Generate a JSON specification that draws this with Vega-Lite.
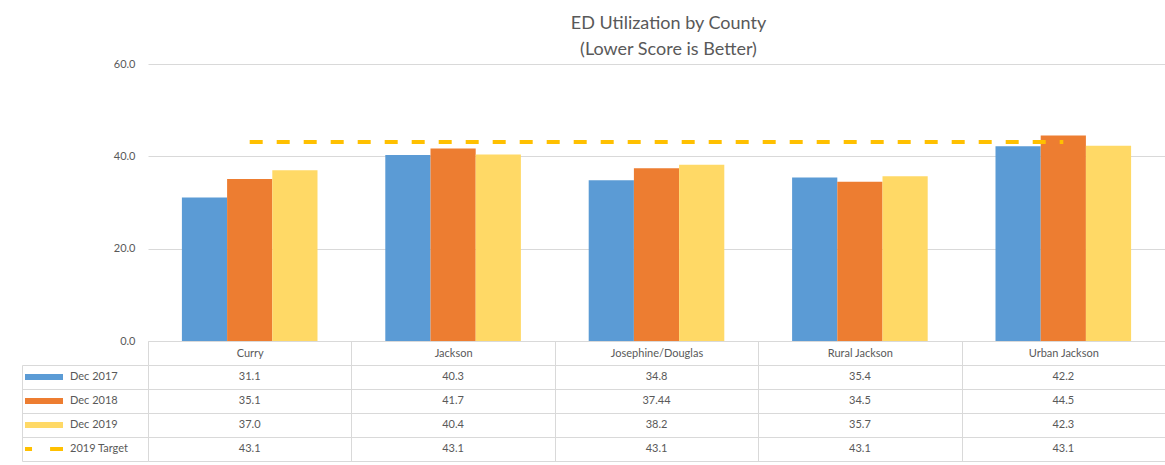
{
  "$schema": "https://vega.github.io/schema/vega-lite/v6.json",
  "padding": {"left": 17, "top": 15, "right": 0, "bottom": 3},
  "background": "white",
  "config": {
    "view": {"stroke": null},
    "font": "Lato",
    "axis": {"labelFont": "Lato", "labelColor": "#595959"},
    "title": {"font": "Lato", "fontWeight": "normal", "color": "#595959"}
  },
  "data": {
    "values": [
      {"County": "Curry", "Series": "Dec 2017", "Value": 31.1, "Label": "31.1"},
      {"County": "Curry", "Series": "Dec 2018", "Value": 35.1, "Label": "35.1"},
      {"County": "Curry", "Series": "Dec 2019", "Value": 37.0, "Label": "37.0"},
      {"County": "Curry", "Series": "2019 Target", "Value": 43.1, "Label": "43.1"},
      {"County": "Jackson", "Series": "Dec 2017", "Value": 40.3, "Label": "40.3"},
      {"County": "Jackson", "Series": "Dec 2018", "Value": 41.7, "Label": "41.7"},
      {"County": "Jackson", "Series": "Dec 2019", "Value": 40.4, "Label": "40.4"},
      {"County": "Jackson", "Series": "2019 Target", "Value": 43.1, "Label": "43.1"},
      {"County": "Josephine/Douglas", "Series": "Dec 2017", "Value": 34.8, "Label": "34.8"},
      {"County": "Josephine/Douglas", "Series": "Dec 2018", "Value": 37.44, "Label": "37.44"},
      {"County": "Josephine/Douglas", "Series": "Dec 2019", "Value": 38.2, "Label": "38.2"},
      {"County": "Josephine/Douglas", "Series": "2019 Target", "Value": 43.1, "Label": "43.1"},
      {"County": "Rural Jackson", "Series": "Dec 2017", "Value": 35.4, "Label": "35.4"},
      {"County": "Rural Jackson", "Series": "Dec 2018", "Value": 34.5, "Label": "34.5"},
      {"County": "Rural Jackson", "Series": "Dec 2019", "Value": 35.7, "Label": "35.7"},
      {"County": "Rural Jackson", "Series": "2019 Target", "Value": 43.1, "Label": "43.1"},
      {"County": "Urban Jackson", "Series": "Dec 2017", "Value": 42.2, "Label": "42.2"},
      {"County": "Urban Jackson", "Series": "Dec 2018", "Value": 44.5, "Label": "44.5"},
      {"County": "Urban Jackson", "Series": "Dec 2019", "Value": 42.3, "Label": "42.3"},
      {"County": "Urban Jackson", "Series": "2019 Target", "Value": 43.1, "Label": "43.1"}
    ]
  },
  "columns": 2,
  "spacing": {"row": 24, "column": 0},
  "bounds": "flush",
  "concat": [
    {
      "width": 126,
      "height": 277,
      "mark": {"type": "point", "opacity": 0},
      "encoding": {}
    },
    {
      "width": 1017,
      "height": 277,
      "title": {
        "text": ["ED Utilization by County", "(Lower Score is Better)"],
        "fontSize": 18,
        "lineHeight": 26,
        "anchor": "middle",
        "dx": 12,
        "offset": -1
      },
      "encoding": {
        "x": {
          "field": "County",
          "type": "nominal",
          "sort": ["Curry", "Jackson", "Josephine/Douglas", "Rural Jackson", "Urban Jackson"],
          "scale": {"paddingInner": 0, "paddingOuter": 0},
          "axis": {
            "title": null,
            "labelAngle": 0,
            "tickBand": "extent",
            "tickSize": 24,
            "tickColor": "#d9d9d9",
            "domainColor": "#d9d9d9",
            "labelPadding": -18,
            "labelFontSize": 11
          }
        },
        "y": {
          "field": "Value",
          "type": "quantitative",
          "scale": {"domain": [0, 60]},
          "axis": {
            "title": null,
            "values": [0, 20, 40, 60],
            "format": ".1f",
            "ticks": false,
            "domain": false,
            "labelPadding": 13,
            "labelFontSize": 11,
            "gridColor": "#d9d9d9"
          }
        }
      },
      "layer": [
        {
          "transform": [{"filter": "datum.Series !== '2019 Target'"}],
          "mark": {"type": "bar"},
          "encoding": {
            "xOffset": {
              "field": "Series",
              "type": "nominal",
              "sort": ["Dec 2017", "Dec 2018", "Dec 2019"],
              "scale": {"paddingInner": 0, "paddingOuter": 0.75}
            },
            "color": {
              "field": "Series",
              "type": "nominal",
              "scale": {"domain": ["Dec 2017", "Dec 2018", "Dec 2019"], "range": ["#5B9BD5", "#ED7D31", "#FFD966"]},
              "legend": null
            }
          }
        },
        {
          "transform": [{"filter": "datum.Series === '2019 Target'"}],
          "mark": {"type": "line", "color": "#FFC000", "strokeWidth": 4, "strokeDash": [13, 14]},
          "encoding": {}
        }
      ]
    },
    {
      "width": 126,
      "height": 96,
      "encoding": {
        "y": {
          "field": "Series",
          "type": "nominal",
          "scale": {"type": "band", "domain": ["Dec 2017", "Dec 2018", "Dec 2019", "2019 Target"], "paddingInner": 0, "paddingOuter": 0},
          "axis": {"title": null, "labels": false, "ticks": false, "tickSize": 0, "labelPadding": 0, "minExtent": 0, "domain": true, "domainColor": "#d9d9d9", "grid": true, "gridColor": "#d9d9d9", "tickBand": "extent"}
        }
      },
      "layer": [
        {
          "transform": [{"filter": "datum.County === 'Curry' && datum.Series !== '2019 Target'"}],
          "mark": {"type": "point", "shape": "M-1,-0.16H1V0.16H-1Z", "filled": true, "size": 1444, "opacity": 1, "xOffset": -41},
          "encoding": {
            "color": {
              "field": "Series",
              "type": "nominal",
              "scale": {"domain": ["Dec 2017", "Dec 2018", "Dec 2019"], "range": ["#5B9BD5", "#ED7D31", "#FFD966"]},
              "legend": null
            }
          }
        },
        {
          "transform": [{"filter": "datum.County === 'Curry' && datum.Series === '2019 Target'"}],
          "mark": {"type": "point", "shape": "M-1,0H-0.63M0.32,0H1", "filled": false, "size": 1444, "stroke": "#FFC000", "strokeWidth": 4, "opacity": 1, "xOffset": -41},
          "encoding": {}
        },
        {
          "transform": [{"filter": "datum.County === 'Curry'"}],
          "mark": {"type": "text", "align": "left", "dx": -15, "fontSize": 11, "color": "#595959"},
          "encoding": {"text": {"field": "Series"}}
        }
      ]
    },
    {
      "width": 1017,
      "height": 96,
      "mark": {"type": "text", "fontSize": 11, "color": "#595959"},
      "encoding": {
        "x": {
          "field": "County",
          "type": "nominal",
          "sort": ["Curry", "Jackson", "Josephine/Douglas", "Rural Jackson", "Urban Jackson"],
          "scale": {"type": "band", "paddingInner": 0, "paddingOuter": 0},
          "axis": {"title": null, "labels": false, "ticks": false, "domain": false, "grid": true, "gridColor": "#d9d9d9", "tickBand": "extent"}
        },
        "y": {
          "field": "Series",
          "type": "nominal",
          "scale": {"type": "band", "domain": ["Dec 2017", "Dec 2018", "Dec 2019", "2019 Target"], "paddingInner": 0, "paddingOuter": 0},
          "axis": {"title": null, "labels": false, "ticks": false, "domain": false, "grid": true, "gridColor": "#d9d9d9", "tickBand": "extent"}
        },
        "text": {"field": "Label"}
      }
    }
  ]
}
